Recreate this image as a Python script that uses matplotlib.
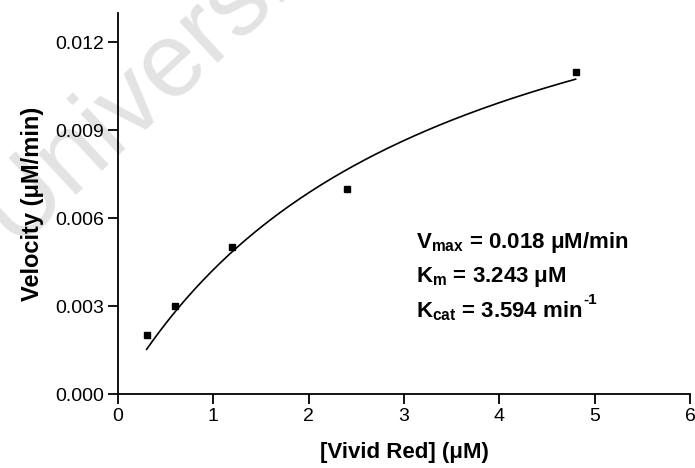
import numpy as np
import matplotlib.pyplot as plt

plt.rcParams['font.family'] = ['Liberation Sans', 'DejaVu Sans']
plt.rcParams['mathtext.default'] = 'regular'
plt.rcParams['axes.unicode_minus'] = False

conc = [0.3, 0.6, 1.2, 2.4, 4.8]
velocity = [0.002, 0.003, 0.005, 0.007, 0.011]
vmax = 0.018
km = 3.243

fig = plt.figure(figsize=(6.95, 4.68), dpi=100)
ax = fig.add_axes([0.1698, 0.1581, 0.823, 0.8141])
ax.set_zorder(2)

# faint watermark behind the plot
fig.text(0.02, 0.475, 'Universit', fontsize=76, color='#e3e3e3', rotation=43,
         rotation_mode='anchor', ha='left', va='baseline', zorder=0)

xs = np.linspace(conc[0], conc[-1], 200)
ax.plot(xs, vmax * xs / (km + xs), color='black', lw=1.2)
ax.plot(conc, velocity, 's', color='black', markersize=5)

ax.set_xlim(0, 6)
ax.set_ylim(0, 0.013)
ax.set_xticks(range(7))
ax.set_yticks([0, 0.003, 0.006, 0.009, 0.012])
ax.set_yticklabels(['0.000', '0.003', '0.006', '0.009', '0.012'])
ax.spines['top'].set_visible(False)
ax.spines['right'].set_visible(False)
for s in ['left', 'bottom']:
    ax.spines[s].set_linewidth(1.3)
ax.tick_params(direction='out', length=7, width=1.3, labelsize=14, pad=3)
ax.patch.set_alpha(0)

ax.set_xlabel('[Vivid Red] (μM)', fontsize=16, fontweight='bold', labelpad=12)
ax.set_ylabel('Velocity (μM/min)', fontsize=17, fontweight='bold', labelpad=8)

ax.text(3.13, 0.00498, 'V$_{max}$ = 0.018 μM/min', fontsize=16, fontweight='bold')
ax.text(3.13, 0.00383, 'K$_{m}$ = 3.243 μM', fontsize=16, fontweight='bold')
kcat = ax.text(3.13, 0.00263, 'K$_{cat}$ = 3.594 min', fontsize=16, fontweight='bold')
ax.annotate('-1', xy=(1, 1), xycoords=kcat, xytext=(0.5, 4),
            textcoords='offset points', ha='left', va='top',
            fontsize=11, fontweight='bold')

plt.savefig('out.png', dpi=100)
